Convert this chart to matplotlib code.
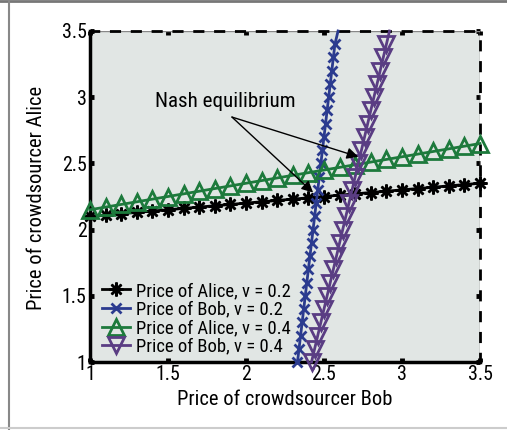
import matplotlib
matplotlib.use("Agg")
import matplotlib.pyplot as plt
from matplotlib import font_manager
from matplotlib.font_manager import FontProperties
from matplotlib.lines import Line2D

# Data
bob_grid = [1.0, 1.1, 1.2, 1.3, 1.4, 1.5, 1.6, 1.7, 1.8, 1.9, 2.0, 2.1, 2.2,
            2.3, 2.4, 2.5, 2.6, 2.7, 2.8, 2.9, 3.0, 3.1, 3.2, 3.3, 3.4, 3.5]
alice_v02 = [2.10, 2.11, 2.12, 2.13, 2.14, 2.15, 2.16, 2.17, 2.18, 2.19, 2.20, 2.21, 2.22,
             2.23, 2.24, 2.25, 2.26, 2.27, 2.28, 2.29, 2.30, 2.31, 2.32, 2.33, 2.34, 2.35]
alice_v04 = [2.15, 2.17, 2.19, 2.21, 2.23, 2.25, 2.27, 2.29, 2.31, 2.33, 2.35, 2.37, 2.39,
             2.41, 2.43, 2.45, 2.47, 2.49, 2.51, 2.53, 2.55, 2.57, 2.59, 2.61, 2.63, 2.65]
alice_grid = [1.0, 1.1, 1.2, 1.3, 1.4, 1.5, 1.6, 1.7, 1.8, 1.9, 2.0, 2.1, 2.2,
              2.3, 2.4, 2.5, 2.6, 2.7, 2.8, 2.9, 3.0, 3.1, 3.2, 3.3, 3.4, 3.5]
bob_v02 = [2.33, 2.34, 2.35, 2.36, 2.37, 2.38, 2.39, 2.40, 2.41, 2.42, 2.43, 2.44, 2.45,
           2.46, 2.47, 2.48, 2.49, 2.50, 2.51, 2.52, 2.53, 2.54, 2.55, 2.56, 2.57, 2.59]
bob_v04 = [2.42, 2.44, 2.46, 2.48, 2.50, 2.52, 2.54, 2.56, 2.58, 2.60, 2.62, 2.64, 2.66,
           2.68, 2.70, 2.72, 2.74, 2.76, 2.78, 2.80, 2.82, 2.84, 2.86, 2.88, 2.90, 2.92]
labels = ["Price of Alice, v = 0.2", "Price of Bob, v = 0.2",
          "Price of Alice, v = 0.4", "Price of Bob, v = 0.4"]
ticks = [1, 1.5, 2, 2.5, 3, 3.5]
tick_labels = ["1", "1.5", "2", "2.5", "3", "3.5"]
nash_points = [(2.43, 2.28), (2.72, 2.55)]
xlabel = "Price of crowdsourcer Bob"
ylabel = "Price of crowdsourcer Alice"
note = "Nash equilibrium"

fig = plt.figure(figsize=(5.07, 4.30), dpi=100)
fig.patch.set_facecolor("white")
renderer = fig.canvas.get_renderer()
PX = 100 / 72.0


def text_width(fp, text):
    t = fig.text(0, 0, text, fontproperties=fp)
    w = t.get_window_extent(renderer).width
    t.remove()
    return w


# pick, among the plain sans families, the face closest to the reference's condensed look
bases = ["DejaVu Sans", "Liberation Sans", "Noto Sans", "Roboto", "Open Sans", "Lato", "Inter"]
suffix_ok = {"Condensed", "Narrow", "SemiCondensed", "ExtraCondensed", "Semi", "Extra"}


def allowed(name):
    for b in bases:
        if name == b:
            return True
        if name.startswith(b + " "):
            rest = name[len(b) + 1:].split()
            if rest and all(r in suffix_ok for r in rest):
                return True
    return False


best = None
seen = set()
for f in font_manager.fontManager.ttflist:
    if not allowed(f.name) or f.style != "normal":
        continue
    w = f.weight
    if isinstance(w, str):
        w = font_manager.weight_dict.get(w, 400)
    if w != 400 or f.fname in seen:
        continue
    seen.add(f.fname)
    try:
        ratio = text_width(FontProperties(fname=f.fname, size=10), xlabel) / (10 * PX)
    except Exception:
        continue
    score = abs(ratio - 8.6)
    if best is None or score < best[0]:
        best = (score, f.fname)

FNAME = best[1] if best else None


def FP(size):
    if FNAME:
        return FontProperties(fname=FNAME, size=size)
    return FontProperties(family="DejaVu Sans", size=size)


def fit(text, target_px, grow=1.0, max_size=30):
    w = text_width(FP(10), text)
    return min(max_size, grow * 10 * target_px / w)


fs_label = fit(xlabel, 194, 1.1)
fs_leg = fit(labels[0], 153, 1.0)
fs_note = fit(note, 127, 1.1)
fs_tick = fit("3.5", 22, 1.12)

ax = fig.add_axes([90/507, 1-362/430, 390/507, 331/430])
ax.set_facecolor("#e1e6e4")

black = "#000000"
blue = "#2b3b8f"
green = "#1d7a3c"
purple = "#5a3d83"

ax.plot(bob_grid, alice_v02, color=black, lw=2, marker=(8, 2, 0), ms=10, mew=1.8,
        label=labels[0], clip_on=False, zorder=3)
ax.plot(bob_v02, alice_grid, color=blue, lw=2, marker="x", ms=7, mew=2,
        markevery=slice(0, 25), label=labels[1], clip_on=False, zorder=3)
ax.plot(bob_grid, alice_v04, color=green, lw=2, marker="^", ms=11, mew=2,
        mfc="none", label=labels[2], clip_on=False, zorder=3)
ax.plot(bob_v04, alice_grid, color=purple, lw=2, marker="v", ms=12, mew=2,
        mfc="none", markevery=slice(0, 25), label=labels[3], clip_on=False, zorder=3)

ax.set_xlim(1, 3.5)
ax.set_ylim(1, 3.5)
ax.set_xticks(ticks)
ax.set_yticks(ticks)
ax.set_xticklabels(tick_labels, fontproperties=FP(fs_tick))
ax.set_yticklabels(tick_labels, fontproperties=FP(fs_tick))
ax.tick_params(direction="in", length=3, width=3.5, top=True, right=True,
               pad=2.5, colors=black)
for s in ["left", "bottom"]:
    ax.spines[s].set_linewidth(2.5)
for s in ["top", "right"]:
    ax.spines[s].set_linewidth(2.0)
    ax.spines[s].set_linestyle((0, (3, 4.5)))
ax.axhline(3.5, color="#888888", lw=1, zorder=2.5)
ax.axvline(3.5, color="#888888", lw=1, zorder=2.5)

ax.set_xlabel(xlabel, fontproperties=FP(fs_label))
ax.set_ylabel(ylabel, fontproperties=FP(fs_label))
ax.xaxis.set_label_coords(0.5, -0.085)
ax.yaxis.set_label_coords(-0.113, 0.495)

text_xy = (1.91, 2.85)
ax.text(1.87, 2.97, note, fontproperties=FP(fs_note), ha="center", va="center")
for p in nash_points:
    ax.annotate("", xy=p, xytext=text_xy,
                arrowprops=dict(arrowstyle="-|>", color=black, lw=1,
                                shrinkA=0, shrinkB=0, mutation_scale=17))

# legend geometry from the reference: rows 18.6 px apart, first row centred at y=291 px
t = fig.text(0, 0, labels[0], fontproperties=FP(fs_leg))
h_txt = t.get_window_extent(renderer).height
t.remove()
fs_px = fs_leg * PX
spacing = max(0.0, (18.6 - h_txt) / fs_px)
top_px = 291 - h_txt / 2
leg = ax.legend(loc="upper left",
                bbox_to_anchor=((102 - 90) / 390, (362 - top_px) / 331),
                frameon=False, prop=FP(fs_leg), handlelength=28 / fs_px,
                handletextpad=6 / fs_px, labelspacing=spacing,
                borderaxespad=0.0, borderpad=0.0)

fig.add_artist(Line2D([0, 1], [1 - 1/430, 1 - 1/430], color="#777777", lw=2))
fig.add_artist(Line2D([8.5/507, 8.5/507], [0, 1], color="#888888", lw=1.5))
fig.add_artist(Line2D([0, 1], [2/430, 2/430], color="#cccccc", lw=1.5))

fig.savefig("out.png", dpi=100)
